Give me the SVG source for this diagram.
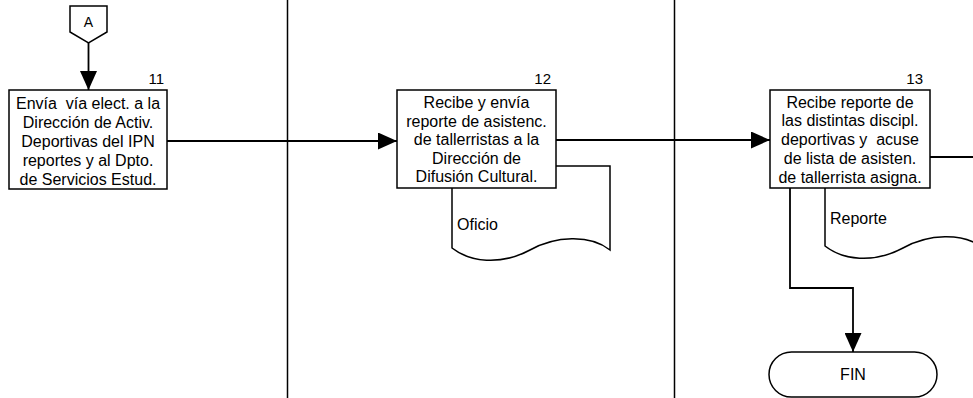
<svg xmlns="http://www.w3.org/2000/svg" width="973" height="398" viewBox="0 0 973 398">
<style>
  .shape { fill: #fff; stroke: #000; stroke-width: 1.5; }
  .lane { stroke: #000; stroke-width: 1.5; fill: none; }
  .conn { stroke: #000; stroke-width: 1.8; fill: none; }
  .t { font-family: "Liberation Sans", Arial, sans-serif; font-size: 16px; fill: #000; text-anchor: middle; }
  .n { font-family: "Liberation Sans", Arial, sans-serif; font-size: 15px; fill: #000; text-anchor: end; }
  .l { font-family: "Liberation Sans", Arial, sans-serif; font-size: 16px; fill: #000; }
</style>
<defs>
  <marker id="arr" markerWidth="19" markerHeight="17" refX="19" refY="8.5" orient="auto" markerUnits="userSpaceOnUse">
    <path d="M0,0 L19,8.5 L0,17 Z" fill="#000"/>
  </marker>
</defs>
<rect width="973" height="398" fill="#fff"/>

<g id="lanes">
  <line class="lane" x1="287.5" y1="0" x2="287.5" y2="398"/>
  <line class="lane" x1="674.5" y1="0" x2="674.5" y2="398"/>
</g>

<g id="doc-oficio">
  <path class="shape" d="M452,166 L610,166 L610,250 C590,234 555,236 530,250 C500,266 470,262 452,248 Z"/>
  <text class="l" x="457" y="230">Oficio</text>
</g>

<g id="doc-reporte">
  <path d="M825,166 L983,166 L983,248 C963,232 928,234 903,248 C873,264 843,260 825,246 Z" fill="#fff"/>
  <path class="lane" d="M825,166 L825,246 C843,260 873,264 903,248 C928,234 963,232 983,248"/>
  <text class="l" x="830" y="224">Reporte</text>
</g>

<g id="connectors">
  <line class="conn" x1="88.5" y1="43" x2="88.5" y2="90" marker-end="url(#arr)"/>
  <line class="conn" x1="167" y1="141" x2="397" y2="141" marker-end="url(#arr)"/>
  <line class="conn" x1="556" y1="140" x2="770" y2="140" marker-end="url(#arr)"/>
  <line class="conn" x1="930" y1="157" x2="973" y2="157"/>
  <polyline class="conn" points="790,188 790,288 853,288 853,352" marker-end="url(#arr)"/>
</g>

<g id="connector-A">
  <path class="shape" d="M70,6 L107,6 L107,32 L88.5,43 L70,32 Z"/>
  <text class="t" x="88.5" y="27" style="font-size:14px">A</text>
</g>

<g id="node-11">
  <rect class="shape" x="9" y="90" width="158" height="99"/>
  <text class="n" x="164" y="84">11</text>
  <text class="t" x="88" y="108.5" xml:space="preserve">Envía  vía elect. a la</text>
  <text class="t" x="88" y="127.5">Dirección de Activ.</text>
  <text class="t" x="88" y="146.5">Deportivas del IPN</text>
  <text class="t" x="88" y="165.5">reportes y al Dpto.</text>
  <text class="t" x="88" y="184.5">de Servicios Estud.</text>
</g>

<g id="node-12">
  <rect class="shape" x="397" y="90" width="159" height="98"/>
  <text class="n" x="551" y="84">12</text>
  <text class="t" x="476.5" y="108">Recibe y envía</text>
  <text class="t" x="476.5" y="126.5">reporte de asistenc.</text>
  <text class="t" x="476.5" y="145">de tallerristas a la</text>
  <text class="t" x="476.5" y="163.5">Dirección de</text>
  <text class="t" x="476.5" y="182">Difusión Cultural.</text>
</g>

<g id="node-13">
  <rect class="shape" x="770" y="90" width="160" height="98"/>
  <text class="n" x="923" y="84">13</text>
  <text class="t" x="850" y="107.5">Recibe reporte de</text>
  <text class="t" x="850" y="126">las distintas discipl.</text>
  <text class="t" x="850" y="145" xml:space="preserve">deportivas y  acuse</text>
  <text class="t" x="850" y="164">de lista de asisten.</text>
  <text class="t" x="850" y="183">de tallerrista asigna.</text>
</g>

<g id="node-fin">
  <rect class="shape" x="769" y="352" width="168" height="45" rx="22.5" ry="22.5"/>
  <text class="t" x="853" y="380">FIN</text>
</g>
</svg>
